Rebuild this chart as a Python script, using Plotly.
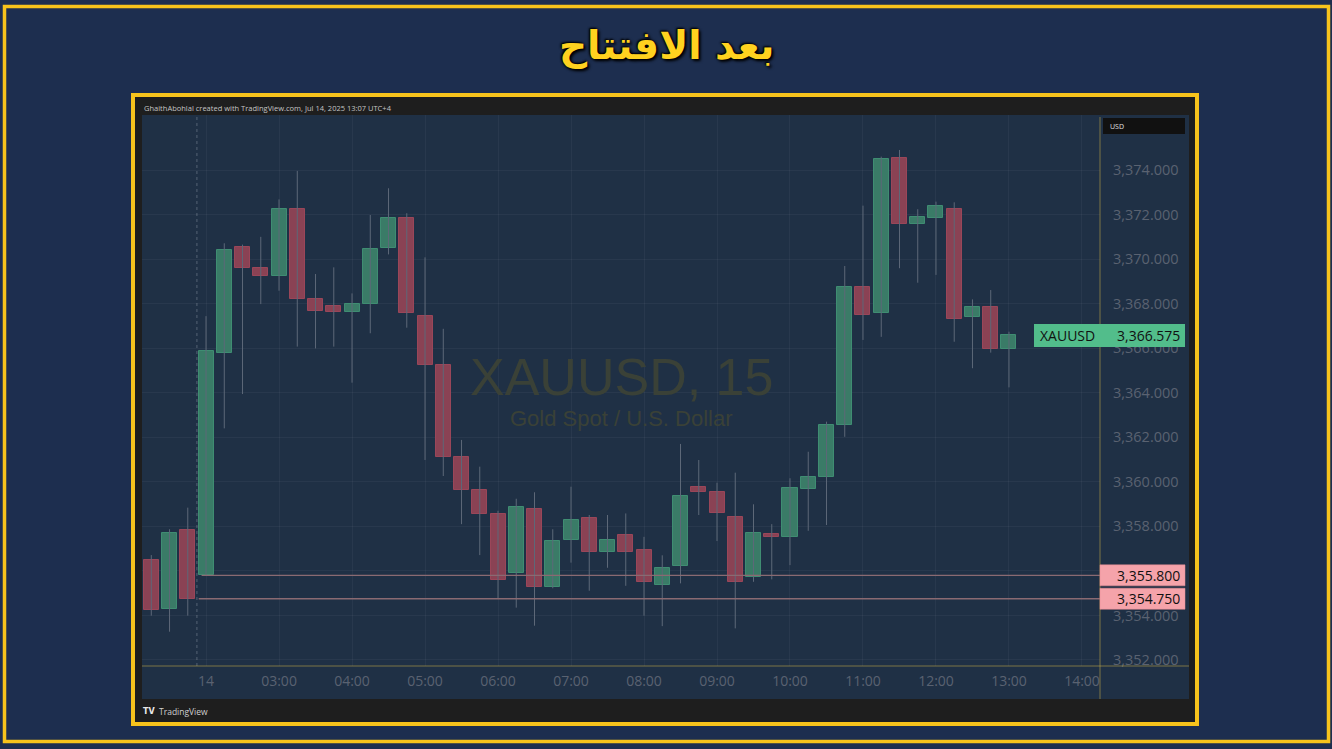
import plotly.graph_objects as go

# ---------------- data ----------------
times = ["01:15", "01:30", "01:45", "02:00", "02:15", "02:30", "02:45", "03:00",
         "03:15", "03:30", "03:45", "04:00", "04:15", "04:30", "04:45", "05:00",
         "05:15", "05:30", "05:45", "06:00", "06:15", "06:30", "06:45", "07:00",
         "07:15", "07:30", "07:45", "08:00", "08:15", "08:30", "08:45", "09:00",
         "09:15", "09:30", "09:45", "10:00", "10:15", "10:30", "10:45", "11:00",
         "11:15", "11:30", "11:45", "12:00", "12:15", "12:30", "12:45", "13:00"]
opens = [3356.49, 3354.27, 3357.83, 3355.80, 3365.80, 3370.56, 3369.61, 3369.24,
         3372.24, 3368.21, 3367.89, 3367.62, 3367.98, 3370.48, 3371.86, 3367.44,
         3365.24, 3361.10, 3359.63, 3358.54, 3355.89, 3358.78, 3355.29, 3357.39,
         3358.37, 3356.86, 3357.61, 3356.95, 3355.38, 3356.22, 3359.78, 3359.56,
         3358.41, 3355.71, 3357.66, 3357.53, 3359.68, 3360.23, 3362.55, 3368.76,
         3367.57, 3374.53, 3371.56, 3371.86, 3372.25, 3367.41, 3367.83, 3365.95]
highs = [3356.71, 3357.87, 3358.84, 3367.44, 3370.71, 3370.65, 3371.00, 3372.68,
         3373.96, 3369.33, 3369.63, 3368.46, 3371.98, 3373.18, 3372.06, 3370.08,
         3366.87, 3361.88, 3360.68, 3358.70, 3359.24, 3359.53, 3357.87, 3359.78,
         3358.51, 3358.51, 3358.58, 3357.53, 3356.70, 3361.70, 3360.98, 3359.96,
         3360.41, 3358.99, 3358.10, 3360.16, 3361.35, 3362.70, 3369.69, 3372.40,
         3374.60, 3374.90, 3372.24, 3372.58, 3372.55, 3368.19, 3368.61, 3366.74]
lows = [3353.99, 3353.27, 3353.99, 3355.80, 3362.40, 3363.94, 3367.98, 3368.58,
        3366.07, 3365.99, 3366.07, 3364.45, 3366.67, 3370.21, 3366.92, 3360.98,
        3360.26, 3358.10, 3356.71, 3354.77, 3354.35, 3353.54, 3355.22, 3356.37,
        3355.11, 3356.14, 3355.33, 3353.99, 3353.52, 3355.44, 3358.51, 3357.34,
        3353.42, 3355.51, 3355.62, 3356.26, 3357.80, 3358.06, 3362.02, 3366.37,
        3366.51, 3369.59, 3368.94, 3369.29, 3366.29, 3365.10, 3365.80, 3364.24]
closes = [3354.24, 3357.71, 3354.75, 3365.89, 3370.41, 3369.59, 3369.24, 3372.24,
          3368.21, 3367.68, 3367.62, 3367.98, 3370.44, 3371.86, 3367.57, 3365.24,
          3361.10, 3359.63, 3358.54, 3355.59, 3358.88, 3355.29, 3357.35, 3358.28,
          3356.86, 3357.41, 3356.86, 3355.50, 3356.14, 3359.37, 3359.56, 3358.58,
          3355.51, 3357.69, 3357.53, 3359.71, 3360.23, 3362.55, 3368.76, 3367.49,
          3374.49, 3371.56, 3371.89, 3372.40, 3367.30, 3367.83, 3365.95, 3366.575]

hour_ticks = ["02:00", "03:00", "04:00", "05:00", "06:00", "07:00", "08:00",
              "09:00", "10:00", "11:00", "12:00", "13:00", "14:00"]
hour_labels = ["14", "03:00", "04:00", "05:00", "06:00", "07:00", "08:00",
               "09:00", "10:00", "11:00", "12:00", "13:00", "14:00"]
price_ticks = [3352, 3354, 3356, 3358, 3360, 3362, 3364, 3366, 3368, 3370, 3372, 3374]
level_lines = [3355.80, 3354.75]
last_price = 3366.575
symbol = "XAUUSD"
title_text = "بعد الافتتاح"
header_text = "GhaithAbohlal created with TradingView.com, Jul 14, 2025 13:07 UTC+4"

DAY = "2025-07-14 "
xs = [DAY + t for t in times]

# ---------------- geometry helpers (pixel -> paper) ----------------
W, H = 1332, 749
PL, PR, PT, PB = 142, 1100, 115, 666


def px(x):
    return (x - PL) / (PR - PL)


def py(y):
    return (PB - y) / (PB - PT)


GREEN_F = "#3a7b67"
GREEN_L = "#3f8d72"
RED_F = "#8a4254"
RED_L = "#9a4659"
WICK = "#5d6878"

up = [c >= o for o, c in zip(opens, closes)]
bases = [min(o, c) for o, c in zip(opens, closes)]
heights = [max(abs(c - o), 0.1) for o, c in zip(opens, closes)]

wx, wy = [], []
for x, lo, hi in zip(xs, lows, highs):
    wx += [x, x, None]
    wy += [lo, hi, None]

fig = go.Figure()
fig.add_trace(go.Scatter(x=wx, y=wy, mode="lines", line=dict(color=WICK, width=1),
                         hoverinfo="skip", showlegend=False))
fig.add_trace(go.Bar(x=xs, y=heights, base=bases, width=740000,
                     marker=dict(color=[GREEN_F if u else RED_F for u in up],
                                 line=dict(color=[GREEN_L if u else RED_L for u in up], width=1)),
                     showlegend=False))

shapes = []
# outer yellow frame
shapes.append(dict(type="rect", xref="paper", yref="paper", x0=px(4.5), x1=px(1328.5),
                   y0=py(6.5), y1=py(741.5), line=dict(color="#f7c31c", width=3.5),
                   fillcolor="rgba(0,0,0,0)", layer="below"))
# panel yellow frame + dark fill
shapes.append(dict(type="rect", xref="paper", yref="paper", x0=px(133), x1=px(1197),
                   y0=py(95), y1=py(724), line=dict(color="#f7c31c", width=4),
                   fillcolor="#1e1e1e", layer="below"))
# chart navy area
shapes.append(dict(type="rect", xref="paper", yref="paper", x0=px(142), x1=px(1189),
                   y0=py(115), y1=py(699), line=dict(width=0),
                   fillcolor="#1f3045", layer="below"))
# axis separator lines
shapes.append(dict(type="line", xref="paper", yref="paper", x0=px(142), x1=px(1189),
                   y0=0, y1=0, line=dict(color="rgba(200,175,70,0.55)", width=1)))
shapes.append(dict(type="line", xref="paper", yref="paper", x0=1, x1=1,
                   y0=py(117), y1=py(699), line=dict(color="rgba(200,175,70,0.55)", width=1)))
# session break dotted line
shapes.append(dict(type="line", xref="x", yref="paper", x0=DAY + "01:52:30", x1=DAY + "01:52:30",
                   y0=0, y1=1, line=dict(color="rgba(150,160,175,0.45)", width=1, dash="dot"),
                   layer="below"))
# horizontal levels
starts = [DAY + "01:56:20", DAY + "01:54:00"]
for lv, st in zip(level_lines, starts):
    shapes.append(dict(type="line", xref="x", yref="y", x0=st, x1=DAY + "14:14:49",
                       y0=lv, y1=lv, line=dict(color="#8a6a72", width=1.3)))
# USD box
shapes.append(dict(type="rect", xref="paper", yref="paper", x0=px(1103), x1=px(1185),
                   y0=py(118), y1=py(134), line=dict(width=0), fillcolor="#111111"))
# pink price labels
half = 10.5 / 22.27
for lv in level_lines:
    shapes.append(dict(type="rect", xref="paper", yref="y", x0=1, x1=px(1185),
                       y0=lv - half, y1=lv + half, line=dict(color="#e88c95", width=0.5),
                       fillcolor="#f5a3aa"))
# green last price label
half_g = 11.5 / 22.27
shapes.append(dict(type="rect", xref="paper", yref="y", x0=px(1034), x1=px(1185),
                   y0=last_price - half_g, y1=last_price + half_g, line=dict(width=0),
                   fillcolor="#52bd8b"))

ann = []
ann.append(dict(text=title_text, xref="paper", yref="paper", x=px(666), y=py(46),
                xanchor="center", yanchor="middle", showarrow=False,
                font=dict(family="DejaVu Sans", size=39, color="#ffd21f", weight="bold",
                          shadow="0px 0px 3px #000, 2px 2px 3px #000, -1px -1px 2px #000")))
ann.append(dict(text=header_text, xref="paper", yref="paper", x=px(142), y=py(107.5),
                xanchor="left", yanchor="middle", showarrow=False,
                font=dict(family="Open Sans", size=7.5, color="#c4c4c4")))
ann.append(dict(text="XAUUSD, 15", xref="paper", yref="paper", x=px(621), y=py(377),
                xanchor="center", yanchor="middle", showarrow=False,
                font=dict(family="Liberation Sans", size=52, color="#3a4137")))
ann.append(dict(text="Gold Spot / U.S. Dollar", xref="paper", yref="paper", x=px(621), y=py(418),
                xanchor="center", yanchor="middle", showarrow=False,
                font=dict(family="Liberation Sans", size=22, color="#3a4137")))
ann.append(dict(text="USD", xref="paper", yref="paper", x=px(1108), y=py(126),
                xanchor="left", yanchor="middle", showarrow=False,
                font=dict(family="Open Sans", size=7, color="#e0e0e0")))
for lv in level_lines:
    ann.append(dict(text=f"{lv:,.3f}", xref="paper", yref="y", x=px(1182), y=lv,
                    xanchor="right", yanchor="middle", showarrow=False,
                    font=dict(family="Open Sans", size=14, color="#111111")))
ann.append(dict(text=symbol, xref="paper", yref="y", x=px(1038), y=last_price,
                xanchor="left", yanchor="middle", showarrow=False,
                font=dict(family="Open Sans", size=14, color="#111111")))
ann.append(dict(text=f"{last_price:,.3f}", xref="paper", yref="y", x=px(1182), y=last_price,
                xanchor="right", yanchor="middle", showarrow=False,
                font=dict(family="Open Sans", size=14, color="#111111")))
ann.append(dict(text="<b>TV</b>", xref="paper", yref="paper", x=px(141), y=py(711),
                xanchor="left", yanchor="middle", showarrow=False,
                font=dict(family="DejaVu Sans", size=8, color="#e8e8e8")))
ann.append(dict(text="TradingView", xref="paper", yref="paper", x=px(157), y=py(711),
                xanchor="left", yanchor="middle", showarrow=False,
                font=dict(family="Open Sans", size=8.5, color="#d0d0d0")))

fig.update_layout(
    width=W, height=H,
    margin=dict(l=PL, r=W - PR, t=PT, b=H - PB, pad=0),
    paper_bgcolor="#1d2e4f",
    plot_bgcolor="rgba(0,0,0,0)",
    barmode="overlay",
    bargap=0,
    showlegend=False,
    shapes=shapes,
    annotations=ann,
    xaxis=dict(type="date", range=[DAY + "01:07:22", DAY + "14:14:49"],
               tickvals=[DAY + t for t in hour_ticks], ticktext=hour_labels,
               showgrid=True, gridcolor="rgba(255,255,255,0.045)", gridwidth=1,
               zeroline=False, showline=False, ticks="", ticklabelstandoff=5,
               tickfont=dict(family="Open Sans", size=14, color="#5a6271"),
               fixedrange=True),
    yaxis=dict(side="right", range=[3351.73, 3376.47], tickvals=price_ticks,
               tickformat=",.3f", showgrid=True, gridcolor="rgba(255,255,255,0.045)",
               gridwidth=1, zeroline=False, showline=False, ticks="",
               ticklabelstandoff=12,
               tickfont=dict(family="Open Sans", size=14.5, color="#5a6271"),
               fixedrange=True),
)

fig.write_html("out.html", config={"displayModeBar": False},
               post_script="document.body.style.margin='0';document.body.style.overflow='hidden';")
